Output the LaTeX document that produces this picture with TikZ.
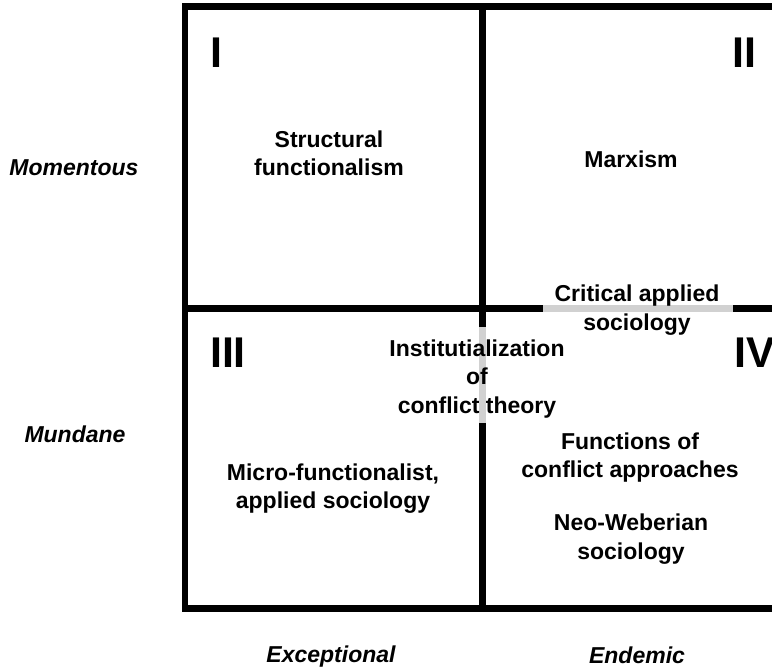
\documentclass[tikz,border=0pt]{standalone}
\usepackage{fontspec}
\setmainfont{Liberation Sans}

\newcommand\quadtextstyle{\bfseries\fontsize{23}{28.5}\selectfont}
\newcommand\quadaxisstyle{\bfseries\itshape\fontsize{23}{28.5}\selectfont}
\newcommand\quadnumstyle{\bfseries\fontsize{43}{50}\selectfont}
\newcommand\quadrule{6.5pt}
\colorlet{quadgap}{black!18}

\begin{document}
\begin{tikzpicture}[x=1pt, y=-1pt, inner sep=0pt, every node/.style={align=center},
    quadtext/.style={font=\quadtextstyle},
    quadaxis/.style={font=\quadaxisstyle},
    quadnum/.style={font=\quadnumstyle}]
    \useasboundingbox (0,0) rectangle (772,670) ;
    % frame, open on the right
    \draw[line width=\quadrule, line join=miter] (790, 6.5) -- (185, 6.5) -- (185, 608.5) -- (790, 608.5) ;
    \draw[line width=\quadrule] (482.5, 6.5) -- (482.5, 608.5) ;
    \draw[line width=\quadrule] (185, 308.5) -- (790, 308.5) ;
    % faded pieces of the cross
    \draw[line width=\quadrule, quadgap] (543, 308.5) -- (733, 308.5) ;
    \draw[line width=\quadrule, quadgap] (482.5, 327) -- (482.5, 423) ;
    % quadrant numbers
    \draw (216, 52.5) node[quadnum] (numI) {I} ;
    \draw (744, 52.5) node[quadnum] (numII) {II} ;
    \draw (228, 352.5) node[quadnum] (numIII) {III} ;
    \draw (755, 352.5) node[quadnum] (numIV) {IV} ;
    % axes
    \draw (74, 168) node[quadaxis] (momentous) {Momentous} ;
    \draw (75, 434) node[quadaxis] (mundane) {Mundane} ;
    \draw (331, 657) node[quadaxis] (exceptional) {Exceptional} ;
    \draw (637, 655) node[quadaxis] (endemic) {Endemic} ;
    % theories
    \draw (329, 153.5) node[quadtext] (structural) {Structural\\functionalism} ;
    \draw (631, 159) node[quadtext] (marxism) {Marxism} ;
    \draw (637, 310) node[quadtext] (critical) {Critical applied\\sociology} ;
    \draw (477, 379) node[quadtext] (institution) {Institutialization\\of\\conflict theory} ;
    \draw (333, 488.5) node[quadtext] (micro) {Micro-functionalist,\\applied sociology} ;
    \draw (630, 457.5) node[quadtext] (functions) {Functions of\\conflict approaches} ;
    \draw (631, 539) node[quadtext] (weber) {Neo-Weberian\\sociology} ;
\end{tikzpicture}
\end{document}
